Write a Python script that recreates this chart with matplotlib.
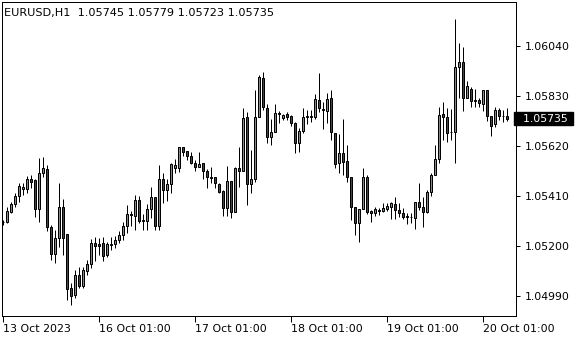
import matplotlib
matplotlib.use("Agg")
import matplotlib.pyplot as plt
import matplotlib.transforms as mtransforms

plt.rcParams['font.family'] = ['DejaVu Sans']

symbol = "EURUSD,H1"
opens = [1.05302, 1.05301, 1.05344, 1.05377, 1.05411, 1.05441, 1.05441, 1.05483, 1.05476, 1.05354,
         1.05505, 1.05523, 1.05278, 1.05165, 1.05232, 1.05362, 1.05249, 1.05022, 1.04994, 1.05078,
         1.05033, 1.05096, 1.05124, 1.05211, 1.05208, 1.05211, 1.05162, 1.05206, 1.05207, 1.05225,
         1.05246, 1.05284, 1.05334, 1.05327, 1.05393, 1.05309, 1.05306, 1.05354, 1.05404, 1.05285,
         1.05483, 1.05435, 1.05459, 1.05529, 1.05526, 1.05615, 1.05598, 1.05578, 1.05547, 1.05530,
         1.05547, 1.05514, 1.05491, 1.05489, 1.05459, 1.05431, 1.05358, 1.05473, 1.05344, 1.05529,
         1.05517, 1.05743, 1.05459, 1.05480, 1.05741, 1.05904, 1.05778, 1.05657, 1.05678, 1.05760,
         1.05737, 1.05755, 1.05747, 1.05715, 1.05632, 1.05683, 1.05740, 1.05746, 1.05740, 1.05813,
         1.05777, 1.05768, 1.05820, 1.05676, 1.05550, 1.05592, 1.05558, 1.05491, 1.05362, 1.05297,
         1.05354, 1.05489, 1.05346, 1.05339, 1.05351, 1.05347, 1.05356, 1.05365, 1.05375, 1.05351,
         1.05337, 1.05326, 1.05321, 1.05316, 1.05386, 1.05362, 1.05344, 1.05428, 1.05498, 1.05564,
         1.05753, 1.05740, 1.05677, 1.05680, 1.05951, 1.05972, 1.05823, 1.05858, 1.05810, 1.05813,
         1.05795, 1.05855, 1.05747, 1.05711, 1.05771, 1.05747, 1.05745]
highs = [1.05309, 1.05365, 1.05386, 1.05424, 1.05464, 1.05464, 1.05493, 1.05500, 1.05483, 1.05568,
         1.05575, 1.05540, 1.05288, 1.05267, 1.05464, 1.05396, 1.05249, 1.05043, 1.05099, 1.05113,
         1.05113, 1.05141, 1.05228, 1.05239, 1.05232, 1.05239, 1.05218, 1.05239, 1.05242, 1.05263,
         1.05302, 1.05372, 1.05347, 1.05414, 1.05411, 1.05334, 1.05377, 1.05449, 1.05404, 1.05540,
         1.05505, 1.05483, 1.05550, 1.05564, 1.05615, 1.05616, 1.05598, 1.05596, 1.05561, 1.05594,
         1.05547, 1.05522, 1.05530, 1.05491, 1.05464, 1.05435, 1.05536, 1.05473, 1.05533, 1.05617,
         1.05778, 1.05764, 1.05603, 1.05855, 1.05918, 1.05932, 1.05796, 1.05732, 1.05795, 1.05768,
         1.05753, 1.05764, 1.05750, 1.05722, 1.05695, 1.05778, 1.05771, 1.05771, 1.05838, 1.05928,
         1.05806, 1.05841, 1.05855, 1.05676, 1.05670, 1.05732, 1.05625, 1.05491, 1.05365, 1.05354,
         1.05526, 1.05498, 1.05351, 1.05365, 1.05360, 1.05382, 1.05382, 1.05386, 1.05407, 1.05382,
         1.05358, 1.05337, 1.05337, 1.05386, 1.05466, 1.05407, 1.05435, 1.05505, 1.05625, 1.05783,
         1.05806, 1.05778, 1.05774, 1.06152, 1.06054, 1.06035, 1.05894, 1.05867, 1.05858, 1.05820,
         1.05855, 1.05855, 1.05747, 1.05783, 1.05778, 1.05771, 1.05779]
lows = [1.05288, 1.05295, 1.05337, 1.05365, 1.05386, 1.05414, 1.05421, 1.05442, 1.05321, 1.05301,
        1.05491, 1.05264, 1.05141, 1.05127, 1.05197, 1.05162, 1.04975, 1.04951, 1.04980, 1.05022,
        1.05022, 1.05078, 1.05106, 1.05138, 1.05162, 1.05138, 1.05152, 1.05183, 1.05192, 1.05211,
        1.05225, 1.05253, 1.05284, 1.05267, 1.05295, 1.05267, 1.05267, 1.05316, 1.05267, 1.05267,
        1.05382, 1.05390, 1.05421, 1.05505, 1.05512, 1.05578, 1.05561, 1.05545, 1.05517, 1.05530,
        1.05483, 1.05442, 1.05464, 1.05442, 1.05424, 1.05327, 1.05327, 1.05316, 1.05344, 1.05446,
        1.05517, 1.05373, 1.05421, 1.05470, 1.05741, 1.05771, 1.05634, 1.05625, 1.05678, 1.05715,
        1.05731, 1.05729, 1.05705, 1.05592, 1.05596, 1.05673, 1.05712, 1.05722, 1.05732, 1.05764,
        1.05690, 1.05715, 1.05645, 1.05526, 1.05505, 1.05498, 1.05470, 1.05309, 1.05246, 1.05218,
        1.05354, 1.05334, 1.05302, 1.05326, 1.05330, 1.05344, 1.05348, 1.05312, 1.05312, 1.05323,
        1.05312, 1.05292, 1.05295, 1.05270, 1.05351, 1.05281, 1.05337, 1.05410, 1.05498, 1.05547,
        1.05645, 1.05638, 1.05645, 1.05550, 1.05820, 1.05768, 1.05823, 1.05785, 1.05785, 1.05785,
        1.05768, 1.05726, 1.05664, 1.05701, 1.05729, 1.05722, 1.05723]
closes = [1.05300, 1.05348, 1.05377, 1.05411, 1.05453, 1.05446, 1.05483, 1.05469, 1.05354, 1.05505,
          1.05526, 1.05281, 1.05165, 1.05232, 1.05362, 1.05232, 1.05018, 1.04991, 1.05078, 1.05033,
          1.05099, 1.05124, 1.05211, 1.05201, 1.05201, 1.05159, 1.05207, 1.05208, 1.05225, 1.05246,
          1.05284, 1.05334, 1.05331, 1.05393, 1.05306, 1.05306, 1.05354, 1.05404, 1.05285, 1.05483,
          1.05435, 1.05459, 1.05543, 1.05539, 1.05615, 1.05594, 1.05578, 1.05550, 1.05530, 1.05543,
          1.05514, 1.05489, 1.05485, 1.05464, 1.05428, 1.05358, 1.05473, 1.05344, 1.05529, 1.05517,
          1.05736, 1.05459, 1.05480, 1.05743, 1.05909, 1.05783, 1.05657, 1.05678, 1.05757, 1.05755,
          1.05749, 1.05743, 1.05715, 1.05632, 1.05683, 1.05740, 1.05746, 1.05743, 1.05816, 1.05778,
          1.05771, 1.05817, 1.05678, 1.05545, 1.05592, 1.05554, 1.05491, 1.05362, 1.05297, 1.05354,
          1.05489, 1.05344, 1.05339, 1.05354, 1.05347, 1.05358, 1.05368, 1.05379, 1.05351, 1.05337,
          1.05323, 1.05321, 1.05323, 1.05386, 1.05362, 1.05344, 1.05428, 1.05498, 1.05564, 1.05750,
          1.05740, 1.05673, 1.05680, 1.05951, 1.05972, 1.05823, 1.05872, 1.05810, 1.05813, 1.05799,
          1.05855, 1.05747, 1.05704, 1.05771, 1.05747, 1.05745, 1.05735]

price_ticks = [1.04990, 1.05200, 1.05410, 1.05620, 1.05830, 1.06040]
time_tick_bars = [0, 24, 48, 72, 96, 120]
time_tick_labels = ["13 Oct 2023", "16 Oct 01:00", "17 Oct 01:00", "18 Oct 01:00", "19 Oct 01:00", "20 Oct 01:00"]

W, H = 580, 340
fig = plt.figure(figsize=(W / 100, H / 100), dpi=100)
fig.patch.set_facecolor("white")
ax = fig.add_axes([2 / W, 24 / H, 514 / W, 314 / H])
ax.set_facecolor("white")

n = len(opens)
xs = list(range(n))
UP = "#00e600"
DOWN = "#e60000"
lw = 0.72

ax.vlines(xs, lows, highs, colors="black", linewidth=lw, zorder=2)
for i in xs:
    o, c = opens[i], closes[i]
    bottom = min(o, c)
    height = abs(c - o)
    color = UP if c >= o else DOWN
    if height < 0.000015:
        ax.hlines((o + c) / 2, i - 0.38, i + 0.38, colors="black", linewidth=lw, zorder=3)
    else:
        ax.bar(i, height, bottom=bottom, width=0.55, color=color, edgecolor="black",
               linewidth=lw, zorder=3)

ax.set_xlim(-0.175, 128.325)
ax.set_ylim(1.04906, 1.062248)

ax.yaxis.tick_right()
ax.set_yticks(price_ticks)
ax.set_yticklabels([f"{p:.5f}" for p in price_ticks])
ax.set_xticks(time_tick_bars)
ax.set_xticklabels(time_tick_labels, ha="left")
ax.tick_params(axis="y", direction="out", length=3, width=0.72, pad=3, labelsize=7.8, colors="black")
ax.tick_params(axis="x", direction="out", length=4, width=0.72, pad=2, labelsize=7.9, colors="black")
for lab in ax.get_xticklabels():
    lab.set_horizontalalignment("left")
for s in ax.spines.values():
    s.set_color("black")
    s.set_linewidth(0.72)

# current price label
trans = mtransforms.blended_transform_factory(ax.transAxes, ax.transData)
ax.text(1.0, closes[-1], f"  {closes[-1]:.5f} ", transform=trans, ha="left", va="center",
        fontsize=7.8, color="white", clip_on=False,
        bbox=dict(boxstyle="square,pad=0.15", facecolor="black", edgecolor="black"))

header = f"{symbol}  {opens[-1]:.5f} {highs[-1]:.5f} {lows[-1]:.5f} {closes[-1]:.5f}"
ax.text(0.004, 0.982, header, transform=ax.transAxes, ha="left", va="top", fontsize=8.15, color="black")

fig.savefig("out.png", dpi=100, facecolor="white")
